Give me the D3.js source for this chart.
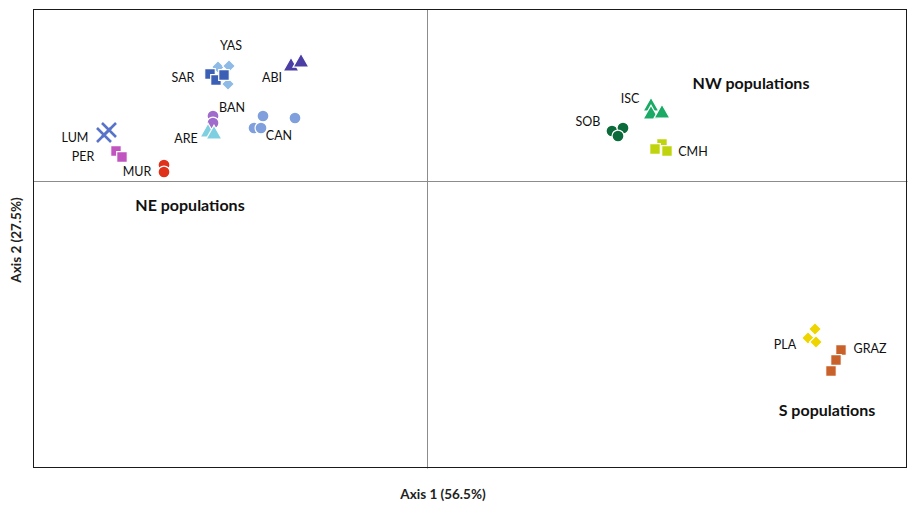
<!DOCTYPE html>
<html>
<head>
<meta charset="utf-8">
<script src="https://cdn.jsdelivr.net/npm/d3@7"></script>
<style>
  html, body { margin: 0; padding: 0; background: #fff; }
  svg { display: block; font-family: Lato, "Open Sans", sans-serif; }
</style>
</head>
<body>
<svg id="chart" width="909" height="507"></svg>
<script>
// Population names (one entry per sampled population)
const populations = ["YAS", "SAR", "ABI", "BAN", "ARE", "CAN", "LUM", "PER", "MUR",
                     "SOB", "ISC", "CMH", "PLA", "GRAZ"];

// Axis 1 scores per population (one value per sample)
const axis1 = {
  YAS:  [-2.09, -1.98, -1.99, -2.05],
  SAR:  [-2.17, -2.11, -2.03],
  ABI:  [-1.36, -1.26],
  BAN:  [-2.14, -2.14],
  ARE:  [-2.19, -2.13],
  CAN:  [-1.64, -1.32, -1.73, -1.66],
  LUM:  [-3.23, -3.18],
  PER:  [-3.11, -3.05],
  MUR:  [-2.63, -2.63],
  SOB:  [1.85, 1.96, 1.91],
  ISC:  [2.24, 2.24, 2.35],
  CMH:  [2.35, 2.40, 2.28],
  PLA:  [3.88, 3.81, 3.89],
  GRAZ: [4.14, 4.09, 4.04]
};

// Axis 2 scores per population (same order as axis1)
const axis2 = {
  YAS:  [1.14, 1.15, 0.97, 1.05],
  SAR:  [1.07, 1.01, 1.06],
  ABI:  [1.16, 1.20],
  BAN:  [0.65, 0.58],
  ARE:  [0.50, 0.48],
  CAN:  [0.65, 0.63, 0.53, 0.53],
  LUM:  [0.46, 0.51],
  PER:  [0.30, 0.24],
  MUR:  [0.16, 0.09],
  SOB:  [0.50, 0.53, 0.45],
  ISC:  [0.76, 0.68, 0.69],
  CMH:  [0.37, 0.30, 0.32],
  PLA:  [-1.48, -1.57, -1.61],
  GRAZ: [-1.69, -1.79, -1.90]
};

// Geographic groups
const groupNames = ["NW populations", "NE populations", "S populations"];
const groupAxis1 = [3.24, -2.37, 4.00];
const groupAxis2 = [0.98, -0.24, -2.29];

const axisTitles = ["Axis 1 (56.5%)", "Axis 2 (27.5%)"];

// Marker style per population
const style = {
  YAS:  { shape: "diamond",  color: "#8DBAE6" },
  SAR:  { shape: "square",   color: "#3A5FB5" },
  ABI:  { shape: "triangle", color: "#4A3EA5" },
  BAN:  { shape: "circle",   color: "#A06CCB" },
  ARE:  { shape: "triangle", color: "#7ED0E0" },
  CAN:  { shape: "circle",   color: "#7FA0DC" },
  LUM:  { shape: "cross",    color: "#5873C8" },
  PER:  { shape: "square",   color: "#C055C0" },
  MUR:  { shape: "circle",   color: "#E0321A" },
  SOB:  { shape: "circle",   color: "#0C6B3A" },
  ISC:  { shape: "triangle", color: "#1AAA66" },
  CMH:  { shape: "square",   color: "#BFD40C" },
  PLA:  { shape: "diamond",  color: "#EED500" },
  GRAZ: { shape: "square",   color: "#C8612A" }
};

// Label offsets (pixels) relative to the population's first sample
const labelOffset = {
  YAS: [13, -21], SAR: [-27, 4], ABI: [-19, 13], BAN: [19, -8], ARE: [-22, 8],
  CAN: [16, 20], LUM: [-29, 3], PER: [-33, 6], MUR: [-27, 7],
  SOB: [-24, -9], ISC: [-21, -6], CMH: [31, 8], PLA: [-30, 16], GRAZ: [29, -1]
};

const plot = { left: 33, right: 907, top: 9, bottom: 468 };

const x = d3.scaleLinear().domain([-3.94, 4.80]).range([plot.left, plot.right]);
const y = d3.scaleLinear().domain([-2.87, 1.72]).range([plot.bottom, plot.top]);

const svg = d3.select("#chart");

// Zero lines drawn as tickless d3 axes through the origin
svg.append("g")
  .attr("transform", `translate(0,${y(0)})`)
  .call(d3.axisBottom(x).tickValues([]).tickSizeOuter(0))
  .call(g => g.select(".domain").attr("stroke", "#8c8c8c"));
svg.append("g")
  .attr("transform", `translate(${x(0)},0)`)
  .call(d3.axisLeft(y).tickValues([]).tickSizeOuter(0))
  .call(g => g.select(".domain").attr("stroke", "#8c8c8c"));

// Plot frame
svg.append("rect")
  .attr("x", plot.left + 0.5).attr("y", plot.top + 0.5)
  .attr("width", plot.right - plot.left - 1).attr("height", plot.bottom - plot.top - 1)
  .attr("fill", "none").attr("stroke", "#1a1a1a").attr("stroke-width", 1);

const symbolFor = {
  diamond:  d3.symbol().type(d3.symbolSquare).size(82),
  square:   d3.symbol().type(d3.symbolSquare).size(112),
  triangle: d3.symbol().type(d3.symbolTriangle).size(110),
  circle:   d3.symbol().type(d3.symbolCircle).size(112)
};

const points = [];
populations.forEach(p => {
  axis1[p].forEach((v, i) => points.push({ pop: p, a1: v, a2: axis2[p][i] }));
});

const marks = svg.append("g");
points.forEach(d => {
  const s = style[d.pop];
  const cx = x(d.a1), cy = y(d.a2);
  if (s.shape === "cross") {
    const r = 7;
    marks.append("path")
      .attr("d", `M${cx - r},${cy - r}L${cx + r},${cy + r}M${cx - r},${cy + r}L${cx + r},${cy - r}`)
      .attr("stroke", s.color).attr("stroke-width", 2.6).attr("fill", "none");
  } else {
    const rot = s.shape === "diamond" ? 45 : 0;
    const dy = s.shape === "triangle" ? 1.5 : 0;
    marks.append("path")
      .attr("d", symbolFor[s.shape]())
      .attr("transform", `translate(${cx},${cy + dy}) rotate(${rot})`)
      .attr("fill", s.color)
      .attr("stroke", "#fff").attr("stroke-width", 1.2);
  }
});

// Population labels
const labels = svg.append("g")
  .attr("font-size", 12.5).attr("fill", "#111").attr("text-anchor", "middle");
populations.forEach(p => {
  const o = labelOffset[p];
  labels.append("text")
    .attr("x", x(axis1[p][0]) + o[0])
    .attr("y", y(axis2[p][0]) + o[1])
    .attr("dy", "0.35em")
    .text(p);
});

// Group labels
groupNames.forEach((g, i) => {
  svg.append("text")
    .attr("x", x(groupAxis1[i])).attr("y", y(groupAxis2[i]))
    .attr("dy", "0.35em")
    .attr("text-anchor", "middle")
    .attr("font-size", 16).attr("font-weight", "bold").attr("fill", "#111")
    .text(g);
});

// Axis titles
svg.append("text")
  .attr("x", 443).attr("y", 494).attr("dy", "0.35em")
  .attr("text-anchor", "middle").attr("font-size", 13.5).attr("font-weight", "bold")
  .attr("fill", "#222")
  .text(axisTitles[0]);
svg.append("text")
  .attr("transform", "translate(16,240) rotate(-90)")
  .attr("dy", "0.35em")
  .attr("text-anchor", "middle").attr("font-size", 13.5).attr("font-weight", "bold")
  .attr("fill", "#222")
  .text(axisTitles[1]);
</script>
</body>
</html>
